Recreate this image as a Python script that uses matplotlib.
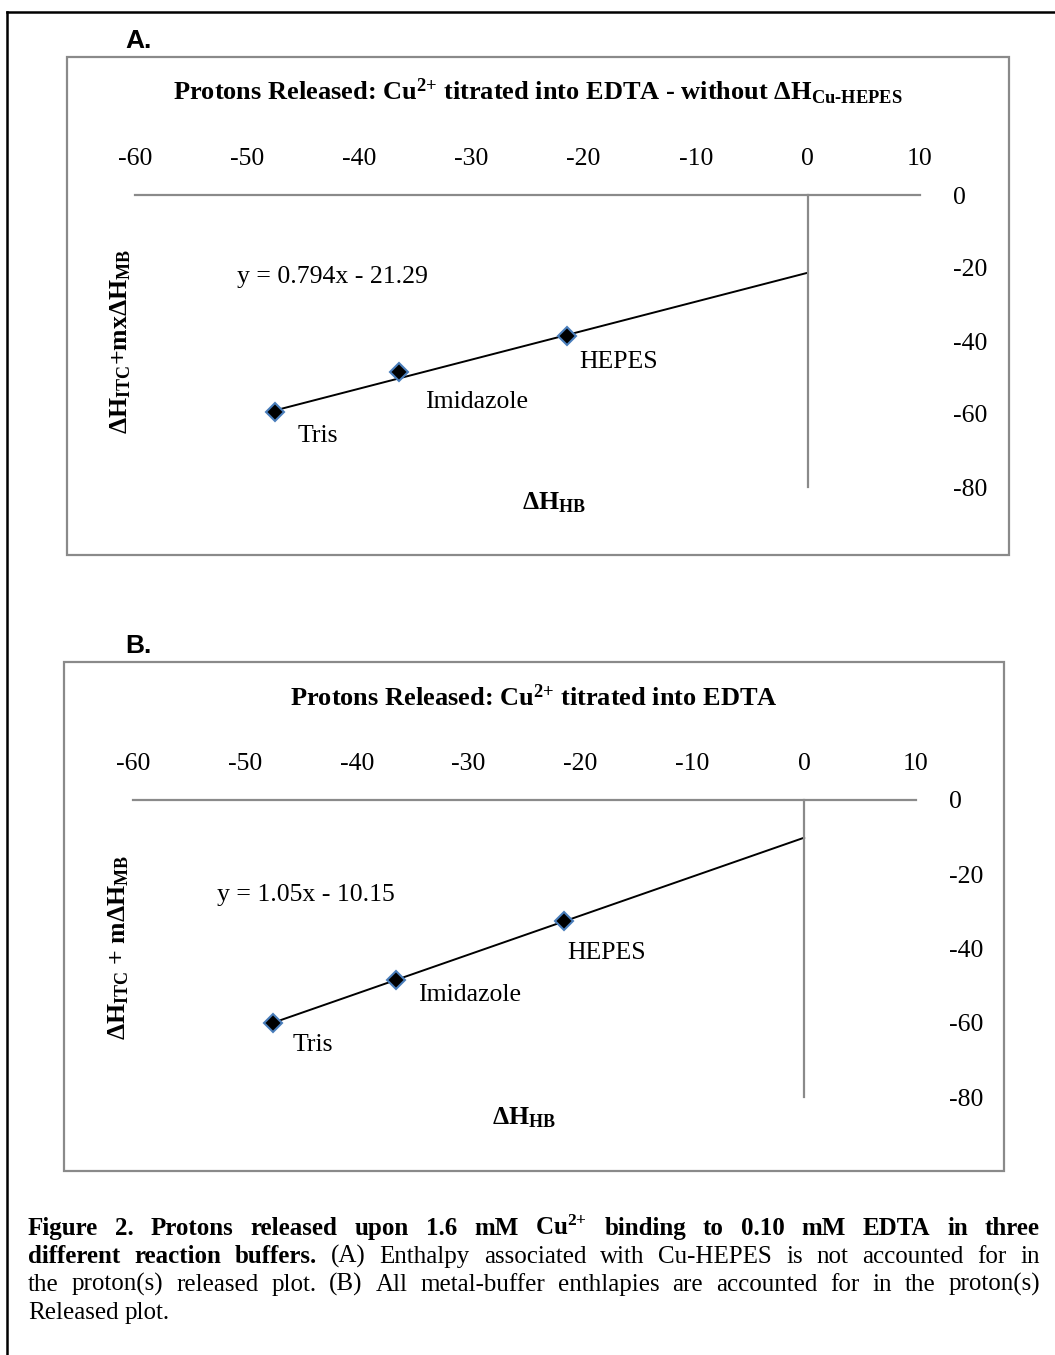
"""Protons released plots for Cu(2+) titrated into EDTA, two panels plus caption."""

import matplotlib
matplotlib.use("Agg")
import matplotlib.pyplot as plt
from matplotlib.lines import Line2D
from matplotlib.patches import Rectangle

# Fonts: Times-like serif everywhere, math uses the same faces
plt.rcParams.update({
    "font.family": "Liberation Serif",
    "mathtext.fontset": "custom",
    "mathtext.rm": "Liberation Serif",
    "mathtext.bf": "Liberation Serif:bold",
    "mathtext.it": "Liberation Serif:italic",
    "axes.unicode_minus": False,
})

# Data
buffers = ["Tris", "Imidazole", "HEPES"]
dh_hb = [-47.5, -36.5, -21.5]
dh_panel_a = [-59.5, -48.5, -38.5]
dh_panel_b = [-60.0, -48.5, -32.5]
fit_a = (0.794, -21.29)
fit_b = (1.05, -10.15)
x_ticks = [-60, -50, -40, -30, -20, -10, 0, 10]
y_ticks = [0, -20, -40, -60, -80]

W, H = 1055, 1355
fig = plt.figure(figsize=(W / 100, H / 100), dpi=100)


def fx(px):
    return px / W


def fy(py):
    return 1 - py / H


GRAY = "#8a8a8a"
FS = 18.5


def draw_panel(box, ax_px, yvals, fit, title, title_xy, ylabel, ylabel_xy,
               eq_xy, xlabel_xy, letter_xy, letter, offsets):
    # panel frame
    x0, y0, x1, y1 = box
    fig.patches.append(Rectangle((fx(x0), fy(y1)), fx(x1) - fx(x0), (y1 - y0) / H,
                                 transform=fig.transFigure, fill=False,
                                 ec=GRAY, lw=1.6))
    fig.text(fx(letter_xy[0]), fy(letter_xy[1]), letter, family="Liberation Sans",
             fontweight="bold", fontsize=19, ha="left", va="center")

    left, top, right, bottom = ax_px
    ax = fig.add_axes([fx(left), fy(bottom), fx(right) - fx(left), (bottom - top) / H])
    ax.set_xlim(-60, 10)
    ax.set_ylim(-80, 0)
    ax.patch.set_visible(False)
    ax.spines["right"].set_visible(False)
    ax.spines["bottom"].set_visible(False)
    ax.spines["left"].set_position(("data", 0))
    for s in ("left", "top"):
        ax.spines[s].set_color(GRAY)
        ax.spines[s].set_linewidth(1.6)
    ax.xaxis.tick_top()
    ax.yaxis.tick_right()
    ax.set_xticks(x_ticks)
    ax.set_yticks(y_ticks)
    ax.tick_params(length=0, labelsize=FS)
    ax.tick_params(axis="x", pad=18)
    ax.tick_params(axis="y", pad=24)

    # trendline extended forward to x = 0
    slope, icpt = fit
    xs = [min(dh_hb), 0]
    ax.plot(xs, [slope * v + icpt for v in xs], color="black", lw=1.4, zorder=2)
    ax.plot(dh_hb, yvals, ls="none", marker="D", ms=9.5, mfc="black",
            mec="#4a7ebb", mew=1.5, zorder=3, clip_on=False)
    for name, xv, yv, (dx, dy) in zip(buffers, dh_hb, yvals, offsets):
        ax.annotate(name, (xv, yv), xytext=(dx, -dy), textcoords="offset pixels",
                    ha="left", va="center", fontsize=FS)

    fig.text(fx(title_xy[0]), fy(title_xy[1]), title, fontweight="bold",
             fontsize=19, ha="center", va="center")
    fig.text(fx(ylabel_xy[0]), fy(ylabel_xy[1]), ylabel, fontweight="bold",
             fontsize=FS, rotation=90, ha="center", va="center")
    sign = "-" if icpt < 0 else "+"
    eq = f"y = {slope:g}x {sign} {abs(icpt):g}"
    fig.text(fx(eq_xy[0]), fy(eq_xy[1]), eq, fontsize=FS, ha="left", va="center")
    fig.text(fx(xlabel_xy[0]), fy(xlabel_xy[1]), "ΔH$_{\\mathbf{HB}}$",
             fontweight="bold", fontsize=FS, ha="center", va="center")
    return ax


draw_panel(box=(67, 57, 1009, 555), ax_px=(135, 195, 920, 487),
           yvals=dh_panel_a, fit=fit_a,
           title="Protons Released: Cu$^{\\mathbf{2{+}}}$ titrated into EDTA - without "
                 "ΔH$_{\\mathbf{Cu\u2010HEPES}}$",
           title_xy=(538, 92),
           ylabel="ΔH$_{\\mathbf{ITC}}$+mxΔH$_{\\mathbf{MB}}$", ylabel_xy=(121, 342),
           eq_xy=(237, 277), xlabel_xy=(554, 503), letter_xy=(125, 41), letter="A.",
           offsets=[(22, 24), (26, 30), (13, 26)])

draw_panel(box=(64, 662, 1004, 1171), ax_px=(133, 800, 916, 1097),
           yvals=dh_panel_b, fit=fit_b,
           title="Protons Released: Cu$^{\\mathbf{2{+}}}$ titrated into EDTA",
           title_xy=(534, 698),
           ylabel="ΔH$_{\\mathbf{ITC}}$ + mΔH$_{\\mathbf{MB}}$", ylabel_xy=(119, 948),
           eq_xy=(217, 895), xlabel_xy=(524, 1118), letter_xy=(125, 646), letter="B.",
           offsets=[(20, 22), (22, 15), (4, 32)])

# outer border (only top and left edges show)
fig.lines.append(Line2D([fx(7), fx(7)], [0, fy(12)], transform=fig.transFigure,
                        color="black", lw=1.8))
fig.lines.append(Line2D([fx(7), 1], [fy(12), fy(12)], transform=fig.transFigure,
                        color="black", lw=1.8))

# caption, justified line by line
caption_lines = [
    [("Figure", "bold"), ("2.", "bold"), ("Protons", "bold"), ("released", "bold"),
     ("upon", "bold"), ("1.6", "bold"), ("mM", "bold"), ("Cu$^{\\mathbf{2{+}}}$", "bold"),
     ("binding", "bold"), ("to", "bold"), ("0.10", "bold"), ("mM", "bold"),
     ("EDTA", "bold"), ("in", "bold"), ("three", "bold")],
    [("different", "bold"), ("reaction", "bold"), ("buffers.", "bold"),
     ("(A)", "normal"), ("Enthalpy", "normal"), ("associated", "normal"),
     ("with", "normal"), ("Cu-HEPES", "normal"), ("is", "normal"), ("not", "normal"),
     ("accounted", "normal"), ("for", "normal"), ("in", "normal")],
    [("the", "normal"), ("proton(s)", "normal"), ("released", "normal"),
     ("plot.", "normal"), ("(B)", "normal"), ("All", "normal"),
     ("metal-buffer", "normal"), ("enthlapies", "normal"), ("are", "normal"),
     ("accounted", "normal"), ("for", "normal"), ("in", "normal"), ("the", "normal"),
     ("proton(s)", "normal")],
    [("Released", "normal"), ("plot.", "normal")],
]
cap_left, cap_right = 28, 1040
cap_baselines = [1235, 1263, 1291, 1319]
cap_fs = 18

renderer = fig.canvas.get_renderer()
for i, (words, base) in enumerate(zip(caption_lines, cap_baselines)):
    texts = [fig.text(0, fy(base), w, fontsize=cap_fs, fontweight=wt,
                      ha="left", va="baseline") for w, wt in words]
    widths = [t.get_window_extent(renderer=renderer).width for t in texts]
    if i < len(caption_lines) - 1:
        gap = (cap_right - cap_left - sum(widths)) / (len(texts) - 1)
    else:
        gap = 0.25 * cap_fs * 100 / 72
    x = cap_left
    for t, w in zip(texts, widths):
        t.set_x(fx(x))
        x += w + gap

fig.savefig("out.png", dpi=100)
